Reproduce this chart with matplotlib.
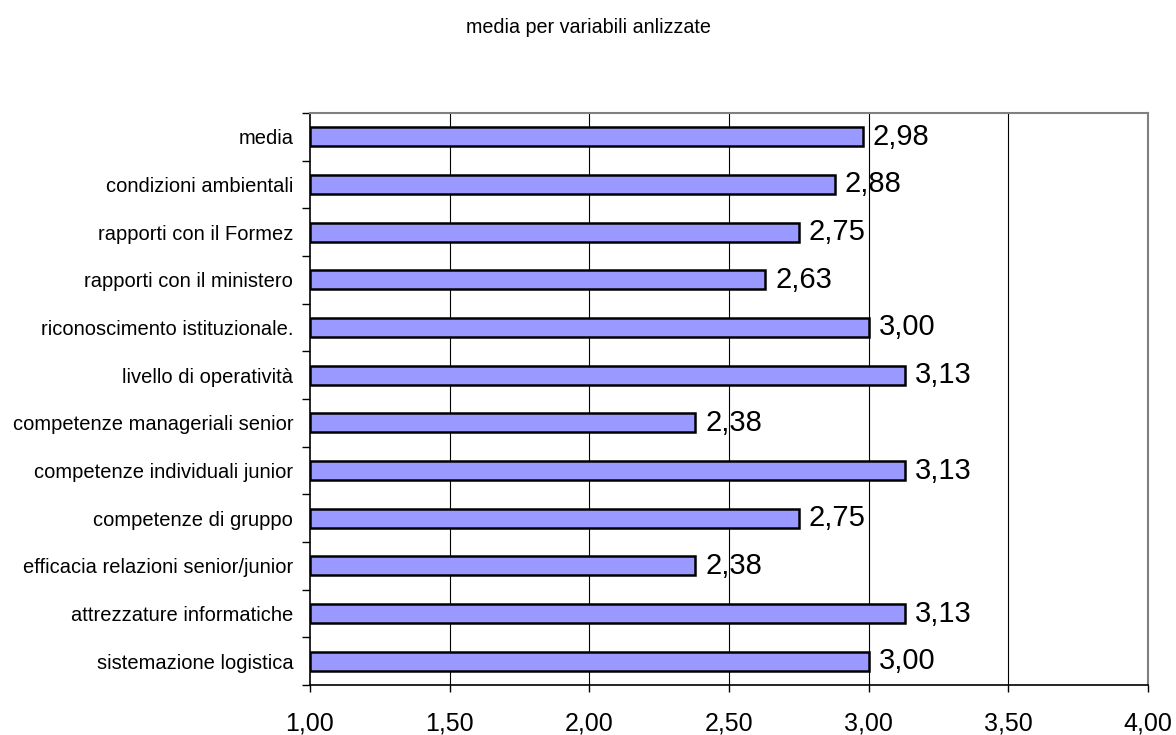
import numpy as np
import matplotlib.pyplot as plt
from matplotlib.ticker import FixedLocator, FuncFormatter

# Voci dal basso verso l'alto, come nel grafico
categorie = ['sistemazione logistica', 'attrezzature informatiche',
             'efficacia relazioni senior/junior', 'competenze di gruppo',
             'competenze individuali junior', 'competenze manageriali senior',
             'livello di operatività', 'riconoscimento istituzionale.',
             'rapporti con il ministero', 'rapporti con il Formez',
             'condizioni ambientali', 'media']
valori = [3.00, 3.13, 2.38, 2.75, 3.13, 2.38, 3.13, 3.00, 2.63, 2.75, 2.88, 2.98]
tick_x = [1.0, 1.5, 2.0, 2.5, 3.0, 3.5, 4.0]

plt.rcParams['font.family'] = ['Liberation Sans', 'DejaVu Sans']

fig = plt.figure(figsize=(11.76, 7.35), dpi=100)
ax = fig.add_axes([0.2636, 0.068, 0.7126, 0.7783])

y = np.arange(len(categorie))
ax.barh(y, [v - 1.0 for v in valori], left=1.0, height=0.4,
        color='#9999FF', edgecolor='black', linewidth=1.8, zorder=3)

for yi, v in zip(y, valori):
    ax.text(v + 0.035, yi, f'{v:.2f}'.replace('.', ','), va='center', ha='left',
            fontsize=21, zorder=4)

ax.set_xlim(1.0, 4.0)
ax.set_ylim(-0.5, len(categorie) - 0.5)

ax.set_xticks(tick_x)
ax.xaxis.set_major_formatter(FuncFormatter(lambda v, p: f'{v:.2f}'.replace('.', ',')))
ax.tick_params(axis='x', labelsize=18, pad=14, length=5, width=1, direction='out')
for gx in tick_x[1:-1]:
    ax.axvline(gx, color='black', linewidth=0.8, zorder=1)

ax.set_yticks(y)
ax.set_yticklabels(categorie, fontsize=14.5)
ax.tick_params(axis='y', which='major', length=0, pad=12)
ax.yaxis.set_minor_locator(FixedLocator(np.arange(-0.5, len(categorie), 1.0)))
ax.tick_params(axis='y', which='minor', length=6, width=1, direction='out')

ax.spines['left'].set_color('black')
ax.spines['bottom'].set_color('black')
ax.spines['left'].set_linewidth(1.2)
ax.spines['bottom'].set_linewidth(1.2)
ax.spines['top'].set_color('#808080')
ax.spines['right'].set_color('#808080')
ax.spines['top'].set_linewidth(1.5)
ax.spines['right'].set_linewidth(1.5)

fig.text(0.5, 0.962, 'media per variabili anlizzate', ha='center', va='center',
         fontsize=14.2)

fig.savefig('out.png', dpi=100)
